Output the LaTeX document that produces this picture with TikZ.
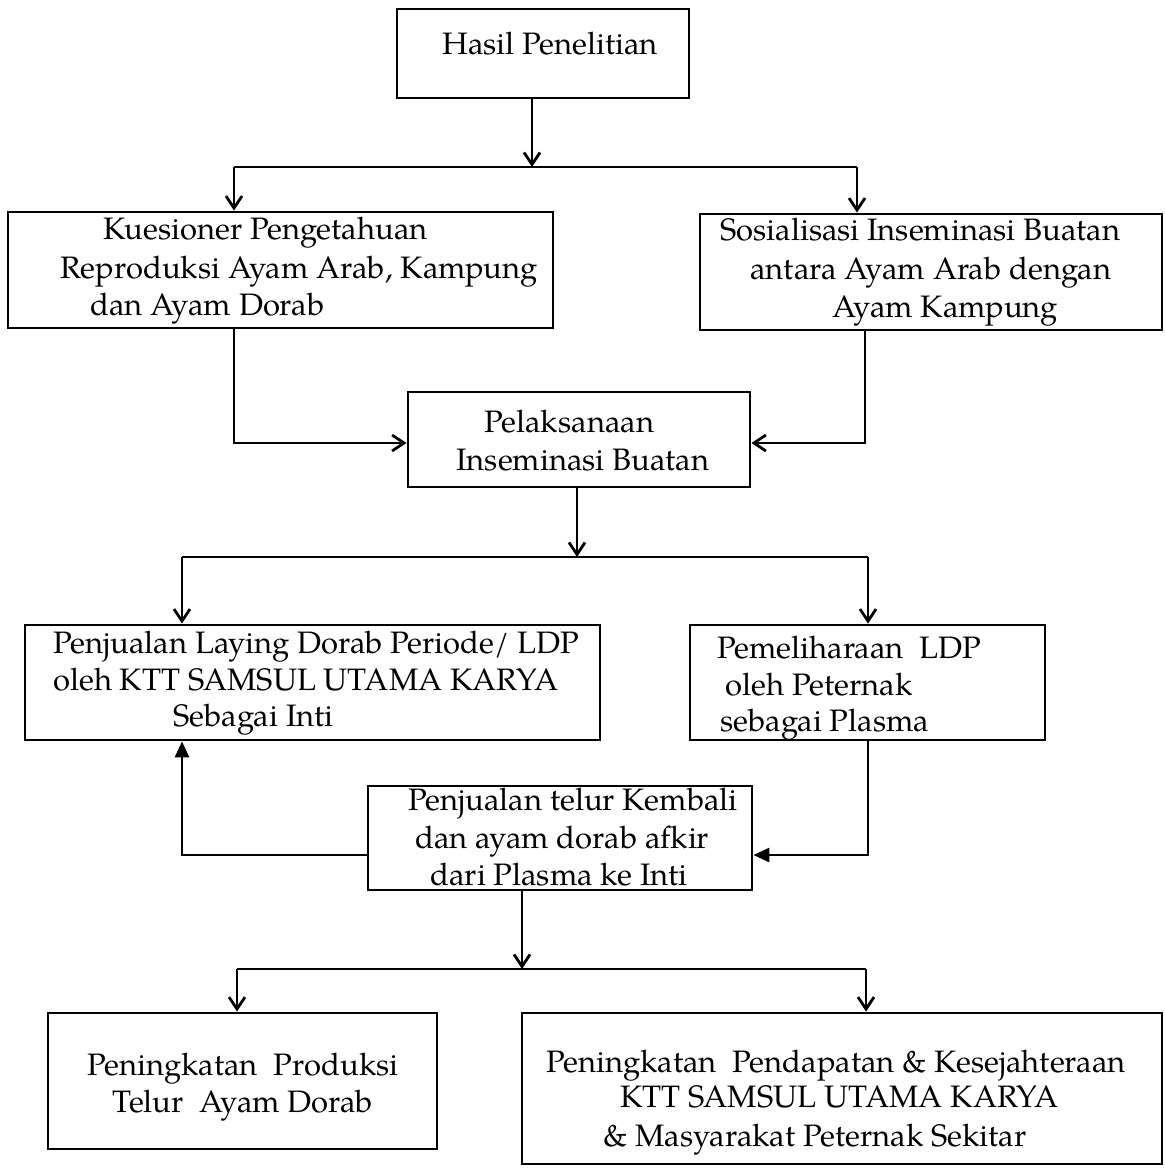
\documentclass[tikz,border=0pt]{standalone}
\usepackage{fontspec}
\setmainfont{TeX Gyre Pagella}
\usetikzlibrary{arrows.meta,fit}
\begin{document}
\begin{tikzpicture}[x=0.5pt,y=-0.5pt,
  box/.style={draw, line width=1.4pt, inner sep=0pt},
  lbl/.style={anchor=base west, inner sep=0pt, font=\fontsize{15.5}{19}\selectfont},
  clbl/.style={anchor=base, inner sep=0pt, font=\fontsize{15.5}{19}\selectfont},
  conn/.style={line width=1.4pt},
  barb/.style={conn, -{Straight Barb[length=6pt,width=8pt]}},
  tri/.style={conn, -{Triangle[length=8pt,width=7pt]}}]
\useasboundingbox (0,0) rectangle (1164,1171);

% boxes
\node[box, fit={(397,9) (689,98)}] (hasil) {};
\node[box, fit={(8,212) (553,328)}] (kues) {};
\node[box, fit={(700,214) (1162,330)}] (sos) {};
\node[box, fit={(408,392) (750,487)}] (pel) {};
\node[box, fit={(25,625) (600,740)}] (penj) {};
\node[box, fit={(690,625) (1045,740)}] (pem) {};
\node[box, fit={(368,786) (752,890)}] (telur) {};
\node[box, fit={(48,1013) (437,1149)}] (prod) {};
\node[box, fit={(522,1013) (1162,1164)}] (pend) {};

% texts
\node[lbl] (t0) at (442,55) {Hasil Penelitian};

\node[lbl] (t1a) at (103,240) {Kuesioner Pengetahuan};
\node[lbl] (t1b) at (60,279) {Reproduksi Ayam Arab, Kampung};
\node[lbl] (t1c) at (90,316) {dan Ayam Dorab};

\node[lbl] (t2a) at (720,241) {Sosialisasi Inseminasi Buatan};
\node[lbl] (t2b) at (750,280) {antara Ayam Arab dengan};
\node[lbl] (t2c) at (832,318) {Ayam Kampung};

\node[lbl] (t3a) at (484,432) {Pelaksanaan};
\node[lbl] (t3b) at (456,470) {Inseminasi Buatan};

\node[lbl] (t4a) at (53,653) {Penjualan Laying Dorab Periode/ LDP};
\node[lbl] (t4b) at (53,690) {oleh KTT SAMSUL UTAMA KARYA};
\node[lbl] (t4c) at (173,726) {Sebagai Inti};

\node[lbl] (t5a) at (717,658) {Pemeliharaan\ \ LDP};
\node[lbl] (t5b) at (725,695) {oleh Peternak};
\node[lbl] (t5c) at (720,731) {sebagai Plasma};

\node[lbl] (t6a) at (408,810) {Penjualan telur Kembali};
\node[lbl] (t6b) at (415,848) {dan ayam dorab afkir};
\node[lbl] (t6c) at (430,885) {dari Plasma ke Inti};

\node[clbl] (t7a) at (243,1075) {Peningkatan\ \ Produksi};
\node[clbl] (t7b) at (243,1112) {Telur\ \ Ayam Dorab};

\node[lbl] (t8a) at (546,1072) {Peningkatan\ \ Pendapatan \& Kesejahteraan};
\node[lbl] (t8b) at (620,1107) {KTT SAMSUL UTAMA KARYA};
\node[lbl] (t8c) at (603,1146) {\& Masyarakat Peternak Sekitar};

% connectors: top
\coordinate (j1) at (532,167);
\coordinate (j1l) at (234,167);
\coordinate (j1r) at (857,167);
\draw[barb] (hasil.south -| j1) -- (j1);
\draw[conn] (j1l) -- (j1r);
\draw[barb] (j1l) -- (j1l |- kues.north);
\draw[barb] (j1r) -- (j1r |- sos.north);

\coordinate (k1) at (234,443);
\coordinate (s1) at (865,443);
\draw[barb] (kues.south -| k1) -- (k1) -- (k1 -| pel.west);
\draw[barb] (sos.south -| s1) -- (s1) -- (s1 -| pel.east);

% middle
\coordinate (j2) at (577,557);
\coordinate (j2l) at (182,557);
\coordinate (j2r) at (868,557);
\draw[barb] (pel.south -| j2) -- (j2);
\draw[conn] (j2l) -- (j2r);
\draw[barb] (j2l) -- (j2l |- penj.north);
\draw[barb] (j2r) -- (j2r |- pem.north);

\coordinate (l1) at (182,855);
\coordinate (r1) at (868,855);
\draw[tri] (telur.west |- l1) -- (l1) -- (l1 |- penj.south);
\draw[tri] (pem.south -| r1) -- (r1) -- (r1 -| telur.east);

% bottom
\coordinate (j3) at (522,969);
\coordinate (j3l) at (237,969);
\coordinate (j3r) at (866,969);
\draw[barb] (telur.south -| j3) -- (j3);
\draw[conn] (j3l) -- (j3r);
\draw[barb] (j3l) -- (j3l |- prod.north);
\draw[barb] (j3r) -- (j3r |- pend.north);
\end{tikzpicture}
\end{document}
